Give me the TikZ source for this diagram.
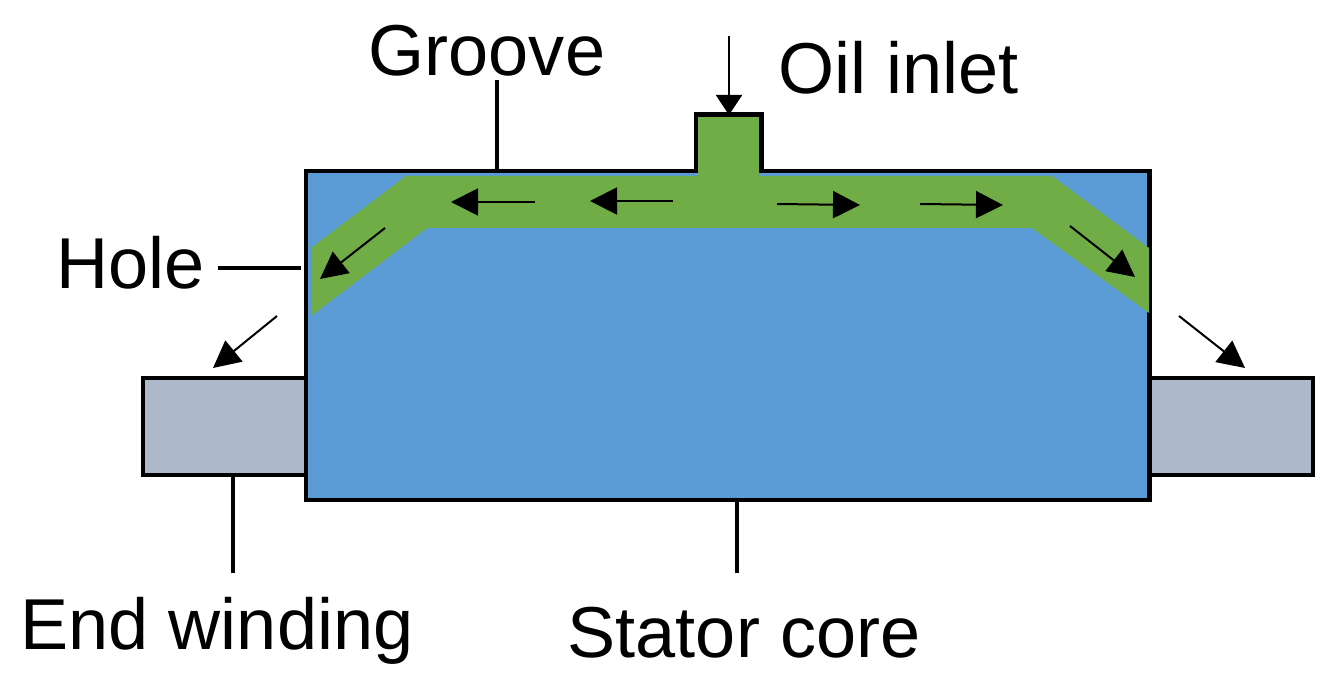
\documentclass[tikz,border=0pt]{standalone}
\usepackage{fontspec}
\setmainfont{Liberation Sans}
\usetikzlibrary{arrows.meta}

\definecolor{coreblue}{HTML}{5B9BD5}
\definecolor{oilgreen}{HTML}{70AD47}
\definecolor{windinggray}{HTML}{ADB9CA}

\tikzset{
    partbox/.style={draw=black, line width=0.045cm, inner sep=0pt, outer sep=0pt},
    leader/.style={draw=black, line width=0.04cm},
    flowarrow/.style={draw=black, line width=0.02cm, -{Triangle[length=0.27cm, width=0.27cm]}},
    inletarrow/.style={draw=black, line width=0.02cm, -{Triangle[length=0.2cm, width=0.26cm]}},
    partlabel/.style={anchor=base west, inner sep=0pt, font=\fontsize{20.5}{24}\selectfont}
}

\begin{document}
\begin{tikzpicture}[
    x=0.01cm, y=-0.01cm
]

\useasboundingbox (0,0) rectangle (1336,685);

%% Vinutia a jadro
\node[partbox, fill=windinggray, minimum width=1.63cm, minimum height=0.97cm] (endleft) at (224.5,426.5) {};
\node[partbox, fill=windinggray, minimum width=1.64cm, minimum height=0.97cm] (endright) at (1231,426.5) {};
\node[partbox, fill=coreblue, minimum width=8.43cm, minimum height=3.29cm] (core) at (727.5,335.5) {};

%% Olejovy kanal
\fill[oilgreen] (698,117) -- (759,117) -- (759,176) -- (1052,176) -- (1149,248)
    -- (1149,313) -- (1032,228) -- (427,228) -- (311,316) -- (311,248)
    -- (406,176) -- (698,176) -- cycle;
\draw[leader, line width=0.045cm] (696,171) -- (696,114.5) -- (761.5,114.5) -- (761.5,171);

%% Popisy
\node[partlabel] (groove) at (368,76) {Groove};
\node[partlabel] (inlet) at (778,94) {Oil inlet};
\node[partlabel] (hole) at (56,288) {Hole};
\node[partlabel] (winding) at (20,649) {End winding};
\node[partlabel] (stator) at (567,657) {Stator core};

%% Odkazove ciary
\coordinate (groovefoot) at (497,80);
\coordinate (holefoot) at (218,268);
\coordinate (holeend) at (301,268);
\coordinate (windingfoot) at (233,573);
\coordinate (statorfoot) at (737,573);
\draw[leader] (groovefoot) -- (groovefoot |- core.north);
\draw[leader] (holefoot) -- (holeend);
\draw[leader] (windingfoot) -- (windingfoot |- endleft.south);
\draw[leader] (statorfoot) -- (statorfoot |- core.south);

%% Sipky prudenia: (meno, zaciatok, koniec)
\coordinate (intail) at (729,36);
\coordinate (intip) at (729,115);
\draw[inletarrow] (intail) -- (intip);
\foreach \name/\xa/\ya/\xb/\yb in {
    lefta/673/201/590/201,
    leftb/535/202/451/202,
    righta/777/204/860/205,
    rightb/920/204/1003/205,
    holeleft/385/228/320/279,
    holeright/1070/226/1135/277,
    outleft/277/316/213/368,
    outright/1179/316/1245/368
} {
    \coordinate (\name tail) at (\xa,\ya);
    \coordinate (\name tip) at (\xb,\yb);
    \draw[flowarrow] (\name tail) -- (\name tip);
}

\end{tikzpicture}
\end{document}
